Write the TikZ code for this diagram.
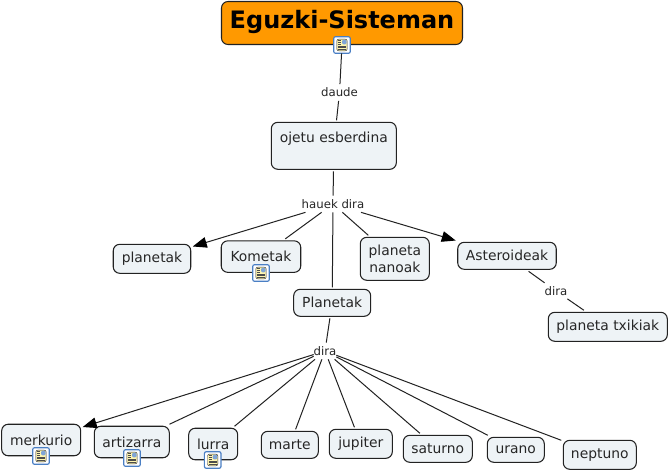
\documentclass[tikz,border=0pt]{standalone}
\usepackage{fontspec}
\setmainfont{DejaVu Sans}
\usetikzlibrary{arrows.meta}
\definecolor{boxfill}{HTML}{EEF3F6}
\definecolor{boxline}{HTML}{222222}
\definecolor{orangefill}{HTML}{FF9900}
\definecolor{linkline}{HTML}{222222}
\definecolor{iconblue}{HTML}{4A7FC4}
\definecolor{iconpage}{HTML}{FFF6B0}
\tikzset{
  x=0.75pt,y=-0.75pt,
  concept/.style={draw=boxline,fill=boxfill,rounded corners=6.5*0.75pt,line width=0.8pt,inner sep=0pt,outer sep=1.5pt,
    align=center,font=\fontsize{10.4}{12.6}\selectfont,text=black!85},
  titlebox/.style={concept,fill=orangefill,font=\fontsize{18}{24}\bfseries\selectfont,text=black,text depth=6pt},
  linklabel/.style={inner sep=0pt,minimum height=12.5pt,font=\fontsize{8.8}{10}\selectfont,text=black!85,outer sep=0pt},
  link/.style={draw=linkline,line width=0.75pt},
  arrowlink/.style={link,-{Triangle[length=10.5pt,width=8pt,color=black]}},
  sz/.style 2 args={minimum width=#1*0.75pt,minimum height=#2*0.75pt},
  docicon/.style={draw=iconblue,fill=white,line width=0.9pt,rounded corners=1.5pt,minimum size=12.5pt,inner sep=0pt,outer sep=0pt,
    path picture={
      \fill[iconpage] ([xshift=-3.9pt,yshift=-4.4pt]path picture bounding box.center) rectangle ([xshift=3.9pt,yshift=4.4pt]path picture bounding box.center);
      \draw[black!80,line width=0.35pt] ([xshift=-3.9pt,yshift=-4.4pt]path picture bounding box.center) rectangle ([xshift=3.9pt,yshift=4.4pt]path picture bounding box.center);
      \fill[iconblue!70] ([xshift=0pt,yshift=0.4pt]path picture bounding box.center) rectangle ([xshift=3.5pt,yshift=4pt]path picture bounding box.center);
      \foreach \dy in {-3.2,-1.9,-0.6}{\draw[black!70,line width=0.35pt] ([xshift=-3pt,yshift=\dy pt]path picture bounding box.center) -- ([xshift=3pt,yshift=\dy pt]path picture bounding box.center);}
      \foreach \dy in {0.8,2.1,3.4}{\draw[black!70,line width=0.35pt] ([xshift=-3pt,yshift=\dy pt]path picture bounding box.center) -- ([xshift=-0.6pt,yshift=\dy pt]path picture bounding box.center);}
    }},
}
\begin{document}
\begin{tikzpicture}
\useasboundingbox[fill=white] (0,0) rectangle (669,471);
% concepts
\node[titlebox,sz={241}{43}] (sun) at (342,23) {Eguzki-Sisteman};
\node[concept,sz={125}{47}] (ojetu) at (333.8,145.8) {ojetu esberdina\\[0.5pt]~};
\node[concept,sz={77.5}{29}] (planetak) at (152,258.8) {planetak};
\node[concept,sz={79.5}{31.5}] (kometak) at (261,256.6) {Kometak};
\node[concept,sz={69}{43}] (nanoak) at (394.8,258.8) {planeta\\nanoak};
\node[concept,sz={77}{27}] (planetak2) at (332.2,302.8) {Planetak};
\node[concept,sz={98.5}{27}] (aster) at (507,255.8) {Asteroideak};
\node[concept,sz={119}{29}] (txiki) at (607.8,326.8) {planeta txikiak};
\node[concept,sz={79}{31.5}] (merk) at (41.2,440) {merkurio};
\node[concept,sz={75}{31.5}] (arti) at (131.8,442) {artizarra};
\node[concept,sz={49}{31.5}] (lurra) at (213.2,444) {lurra};
\node[concept,sz={57}{27}] (marte) at (289.8,444.8) {marte};
\node[concept,sz={63}{29}] (jupiter) at (360.8,443.8) {jupiter};
\node[concept,sz={69}{27}] (saturno) at (437.8,448.8) {saturno};
\node[concept,sz={57}{25}] (urano) at (515.8,449.8) {urano};
\node[concept,sz={73}{29}] (neptuno) at (599.8,454.8) {neptuno};
% link labels
\node[linklabel] (daude) at (339.5,92.5) {daude};
\node[linklabel] (hauek) at (333,204) {hauek dira};
\node[linklabel] (dira1) at (325,351) {dira};
\node[linklabel] (dira2) at (556,291) {dira};
% icons
\node[docicon] (isun) at (342,45) {};
\node[docicon] (ikom) at (261,273) {};
\node[docicon] (imerk) at (41,456) {};
\node[docicon] (iarti) at (132,458) {};
\node[docicon] (ilur) at (212.7,460) {};
% connectors
\draw[link] (isun) -- (daude);
\draw[link] (daude) -- (ojetu);
\draw[link] (ojetu) -- (hauek);
\draw[arrowlink] (hauek) -- (planetak);
\draw[link] (hauek) -- (kometak);
\draw[link] (hauek) -- (planetak2);
\draw[link] (hauek) -- (nanoak);
\draw[arrowlink] (hauek) -- (aster);
\draw[link] (aster) -- (dira2);
\draw[link] (dira2) -- (txiki);
\draw[link] (planetak2) -- (dira1);
\draw[arrowlink] (dira1) -- (merk);
\draw[link] (dira1) -- (arti);
\draw[link] (dira1) -- (lurra);
\draw[link] (dira1) -- (marte);
\draw[link] (dira1) -- (jupiter);
\draw[link] (dira1) -- (saturno);
\draw[link] (dira1) -- (urano);
\draw[link] (dira1) -- (neptuno);
\end{tikzpicture}
\end{document}
